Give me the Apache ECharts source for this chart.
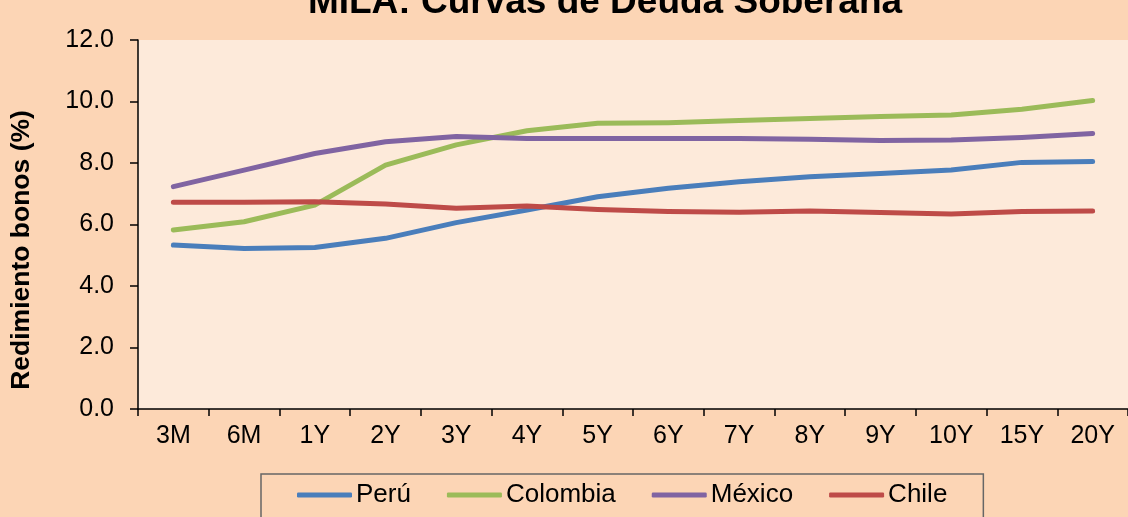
<!DOCTYPE html>
<html>
<head>
<meta charset="utf-8">
<script src="https://cdn.jsdelivr.net/npm/echarts@6/dist/echarts.min.js"></script>
<style>
  html, body { margin: 0; padding: 0; background: #FCD5B5; }
  #chart { width: 1128px; height: 517px; }
</style>
</head>
<body>
<div id="chart"></div>
<script>
// plazos de la curva
var plazos = ['3M', '6M', '1Y', '2Y', '3Y', '4Y', '5Y', '6Y', '7Y', '8Y', '9Y', '10Y', '15Y', '20Y'];

// rendimientos (%)
var peru     = [5.33, 5.22, 5.25, 5.55, 6.06, 6.47, 6.90, 7.18, 7.39, 7.55, 7.66, 7.77, 8.02, 8.05];
var colombia = [5.82, 6.09, 6.63, 7.93, 8.59, 9.05, 9.29, 9.31, 9.38, 9.45, 9.51, 9.56, 9.75, 10.03];
var mexico   = [7.23, 7.77, 8.31, 8.69, 8.86, 8.80, 8.80, 8.80, 8.80, 8.77, 8.73, 8.75, 8.83, 8.96];
var chile    = [6.72, 6.72, 6.74, 6.67, 6.53, 6.60, 6.49, 6.42, 6.40, 6.44, 6.39, 6.34, 6.42, 6.44];

var nombres = ['Perú', 'Colombia', 'México', 'Chile'];
var colores = ['#4A7EBB', '#9BBB59', '#8064A2', '#BE4B48'];
var datos = [peru, colombia, mexico, chile];

var fuente = '"Liberation Sans", Arial, sans-serif';

var chart = echarts.init(document.getElementById('chart'));

var series = nombres.map(function (n, i) {
  return {
    name: n,
    type: 'line',
    data: datos[i],
    symbol: 'none',
    lineStyle: { width: 5, color: colores[i], cap: 'round', join: 'round' },
    itemStyle: { color: colores[i] }
  };
});

var option = {
  backgroundColor: '#FCD5B5',
  animation: false,
  title: {
    text: 'MILA: Curvas de Deuda Soberana',
    left: 600,
    textAlign: 'center',
    top: -21,
    textStyle: { fontFamily: fuente, fontSize: 37, fontWeight: 'bold', color: '#000' }
  },
  graphic: [{
    type: 'text',
    x: 22,
    y: 250,
    rotation: Math.PI / 2,
    style: {
      text: 'Redimiento bonos (%)',
      font: 'bold 26.5px ' + fuente,
      fill: '#000',
      textAlign: 'center',
      textVerticalAlign: 'middle'
    }
  }],
  legend: {
    data: nombres,
    left: 261,
    top: 474,
    padding: [8, 36, 20, 36],
    itemGap: 36,
    itemWidth: 55,
    itemHeight: 5,
    icon: 'roundRect',
    borderColor: '#666',
    borderWidth: 1.5,
    textStyle: { fontFamily: fuente, fontSize: 26, color: '#000', padding: [0, 0, 0, -1] }
  },
  grid: {
    left: 138,
    top: 40,
    width: 994,
    height: 369,
    show: true,
    backgroundColor: '#FDEADA',
    borderWidth: 0
  },
  xAxis: {
    type: 'category',
    data: plazos,
    boundaryGap: true,
    axisLine: { lineStyle: { color: '#000', width: 1.5 } },
    axisTick: { show: true, length: 7, inside: false, lineStyle: { color: '#000', width: 1.5 } },
    axisLabel: { fontFamily: fuente, fontSize: 25, color: '#000', margin: 15 },
    splitLine: { show: false }
  },
  yAxis: {
    type: 'value',
    min: 0,
    max: 12,
    interval: 2,
    axisLine: { show: true, lineStyle: { color: '#000', width: 1.5 } },
    axisTick: { show: true, length: 8, lineStyle: { color: '#000', width: 1.5 } },
    axisLabel: {
      fontFamily: fuente, fontSize: 25, color: '#000', margin: 24,
      formatter: function (v) { return v.toFixed(1); }
    },
    splitLine: { show: false }
  },
  series: series
};

chart.setOption(option);
</script>
</body>
</html>
